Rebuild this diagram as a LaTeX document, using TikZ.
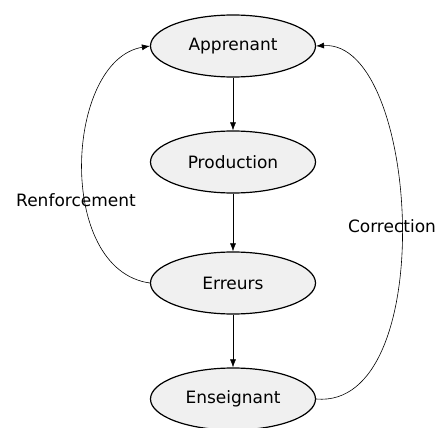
\documentclass[tikz,border=0pt]{standalone}
\usepackage{fontspec}
\setmainfont{DejaVu Sans}
\usetikzlibrary{arrows.meta,shapes.geometric}
\definecolor{nodefill}{RGB}{240,240,240}
\begin{document}
\begin{tikzpicture}[x=1pt,y=-1pt,
  etat/.style={ellipse,draw,line width=1.2pt,fill=nodefill,minimum width=165pt,minimum height=62pt,inner sep=0pt,font=\fontsize{17}{20}\selectfont},
  fl/.style={-{Latex[length=8pt,width=6pt]},line width=0.6pt},
  lbl/.style={font=\fontsize{17}{20}\selectfont}]
\useasboundingbox (0,0) rectangle (442,428);
\node[etat] (app) at (233,46) {Apprenant};
\node[etat] (prod) at (233,162) {Production};
\node[etat] (err) at (233,283) {Erreurs};
\node[etat] (ens) at (233,399) {Enseignant};
\draw[fl] (app) -- (prod);
\draw[fl] (prod) -- (err);
\draw[fl] (err) -- (ens);
\draw[fl] (err.west) .. controls (55,270) and (65,60) .. (app.west);
\draw[fl] (ens.east) .. controls (440,410) and (420,40) .. (app.east);
\node[lbl] (renf) at (76,200) {Renforcement};
\node[lbl] (corr) at (392,226) {Correction};
\end{tikzpicture}
\end{document}
